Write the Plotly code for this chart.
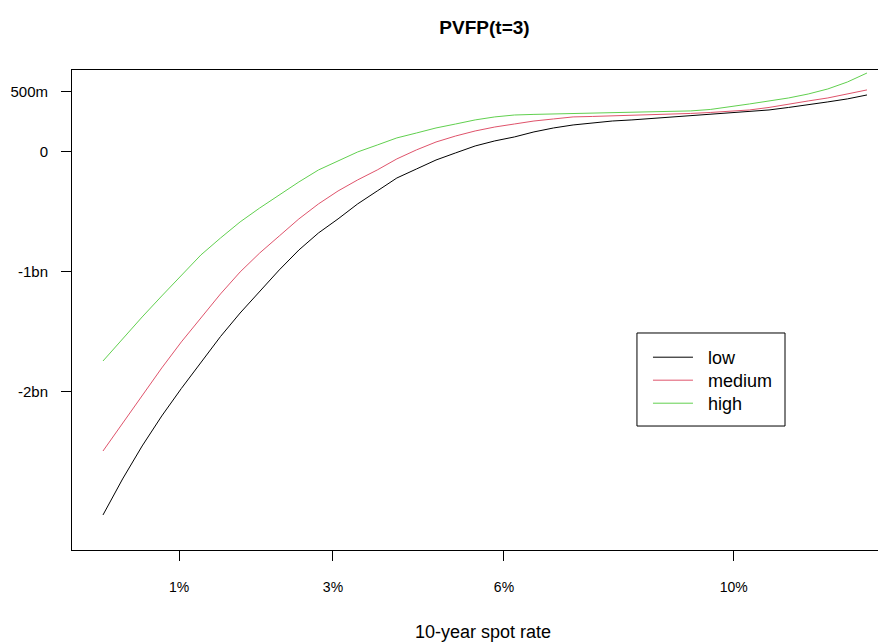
import plotly.graph_objects as go

# scenario index along the 10-year spot rate axis
scenario = list(range(1, 41))

# PVFP(t=3) in millions
low = [-3025, -2725, -2450, -2200, -1971, -1750, -1538, -1342, -1158, -983,
       -817, -675, -558, -433, -325, -217, -142, -67, -8, 50,
       92, 125, 167, 200, 225, 242, 258, 267, 279, 292,
       300, 313, 325, 338, 350, 371, 392, 417, 442, 475]
medium = [-2492, -2258, -2033, -1800, -1583, -1383, -1183, -1000, -842, -700,
          -558, -433, -325, -233, -150, -58, 17, 83, 133, 175,
          208, 233, 258, 275, 292, 296, 300, 308, 313, 317,
          321, 329, 338, 350, 371, 400, 425, 450, 483, 517]
high = [-1742, -1558, -1375, -1200, -1025, -858, -717, -583, -467, -358,
        -250, -150, -75, 0, 58, 117, 158, 200, 233, 267,
        292, 308, 313, 317, 321, 325, 325, 329, 333, 338,
        342, 354, 375, 400, 425, 450, 483, 525, 583, 658]

series_names = ["low", "medium", "high"]

x_tick_pos = [4.88, 12.74, 21.47, 33.2]
x_tick_text = ["1%", "3%", "6%", "10%"]
y_tick_pos = [500, 0, -1000, -2000]
y_tick_text = ["500m", "0", "-1bn", "-2bn"]

FONT = "Liberation Sans, Arial, sans-serif"
NB = "\u00a0\u00a0"

colors = ["black", "#DF536B", "#61D04F"]
legend_ids = ["legend", "legend2", "legend3"]
legend_y = [0.4396, 0.3917, 0.34375]

fig = go.Figure()
for name, vals, col, lid in zip(series_names, [low, medium, high], colors, legend_ids):
    fig.add_trace(go.Scatter(x=scenario, y=vals, mode="lines", name=NB + name,
                             line=dict(color=col, width=1), legend=lid))

# legend frame
fig.add_shape(type="rect", xref="paper", yref="paper",
              x0=0.6873, x1=0.8674, y0=0.2583, y1=0.4521,
              line=dict(color="black", width=1), fillcolor="rgba(0,0,0,0)")

legend_style = dict(x=0.7007, xanchor="left", yanchor="top",
                    borderwidth=0, bgcolor="rgba(0,0,0,0)",
                    font=dict(family=FONT, size=18, color="black"),
                    tracegroupgap=0, itemwidth=40)

fig.update_layout(
    width=886, height=643,
    margin=dict(l=64, r=0, t=62, b=101),
    paper_bgcolor="white", plot_bgcolor="white",
    font=dict(family=FONT, color="black", size=14),
    title=dict(text="PVFP(t=3)", x=476.5 / 886, xref="container", xanchor="center",
               y=1 - 19 / 643, yref="container", yanchor="middle",
               font=dict(family=FONT, size=19, weight="bold", color="black")),
    showlegend=True,
    legend=dict(y=legend_y[0], **legend_style),
    legend2=dict(y=legend_y[1], **legend_style),
    legend3=dict(y=legend_y[2], **legend_style),
    xaxis=dict(range=[-0.582, 41.38], tickmode="array", tickvals=x_tick_pos, ticktext=x_tick_text,
               showgrid=False, zeroline=False, showline=True, linecolor="black", linewidth=1,
               mirror=True, ticks="outside", ticklen=10, tickcolor="black", tickwidth=1,
               ticklabelstandoff=14, tickfont=dict(size=14),
               title=dict(text="10-year spot rate", font=dict(size=18), standoff=31)),
    yaxis=dict(range=[-3317, 683], tickmode="array", tickvals=y_tick_pos, ticktext=y_tick_text,
               showgrid=False, zeroline=False, showline=True, linecolor="black", linewidth=1,
               ticks="outside", ticklen=10, tickcolor="black", tickwidth=1,
               ticklabelstandoff=10, tickfont=dict(size=15)),
)

fig.write_html("out.html")
